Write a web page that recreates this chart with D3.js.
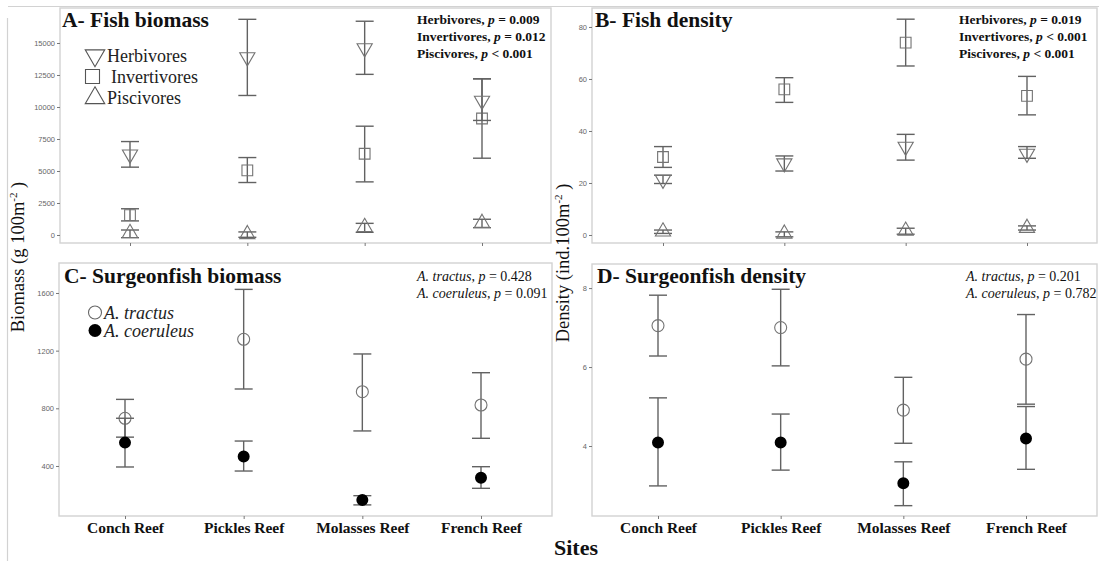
<!DOCTYPE html>
<html>
<head>
<meta charset="utf-8">
<script src="https://cdn.jsdelivr.net/npm/d3@7"></script>
<style>
  html, body { margin: 0; padding: 0; background: #fff; }
  svg { display: block; }
</style>
</head>
<body>
<svg id="chart" width="1099" height="561"></svg>
<script>
// Sampling sites (x categories shared by all four panels)
const sites = ["Conch Reef", "Pickles Reef", "Molasses Reef", "French Reef"];

// A – fish biomass (g 100 m^-2): mean, lower and upper error limits
const herbBiomass   = [6300, 13900, 14600, 10500];
const herbBiomassLo = [5300, 10900, 12550, 8950];
const herbBiomassHi = [7300, 16850, 16700, 12200];
const invBiomass    = [1550, 5050, 6350, 9100];
const invBiomassLo  = [1100, 4100, 4150, 6000];
const invBiomassHi  = [2050, 6050, 8500, 12200];
const pisBiomass    = [150, 60, 620, 940];
const pisBiomassLo  = [-210, -180, 210, 570];
const pisBiomassHi  = [390, 240, 910, 1230];

// B – fish density (ind. 100 m^-2)
const herbDensity   = [21.3, 27.6, 34, 31.3];
const herbDensityLo = [19.8, 24.6, 28.8, 29.5];
const herbDensityHi = [23, 30.4, 38.7, 34];
const invDensity    = [30, 56, 74, 53.5];
const invDensityLo  = [26, 51, 65, 46.2];
const invDensityHi  = [34, 60.5, 83, 61];
const pisDensity    = [1.3, 0.5, 1.6, 2.7];
const pisDensityLo  = [0.6, -0.7, 0.3, 1.9];
const pisDensityHi  = [1.9, 1.2, 2.6, 3.5];

// C – surgeonfish biomass
const tractusBiomass     = [731, 1279, 915, 823];
const tractusBiomassLo   = [600, 934, 643, 592];
const tractusBiomassHi   = [862, 1625, 1177, 1047];
const coeruleusBiomass   = [562, 465, 164, 319];
const coeruleusBiomassLo = [393, 365, 130, 245];
const coeruleusBiomassHi = [731, 573, 194, 395];

// D – surgeonfish density
const tractusDensity     = [7.05, 7.0, 4.91, 6.20];
const tractusDensityLo   = [6.28, 6.03, 4.07, 5.06];
const tractusDensityHi   = [7.82, 7.97, 5.74, 7.33];
const coeruleusDensity   = [4.09, 4.09, 3.06, 4.19];
const coeruleusDensityLo = [2.99, 3.39, 2.49, 3.41];
const coeruleusDensityHi = [5.22, 4.81, 3.60, 5.00];

// Axis ticks
const ticksA = [0, 2500, 5000, 7500, 10000, 12500, 15000];
const ticksB = [0, 20, 40, 60, 80];
const ticksC = [400, 800, 1200, 1600];
const ticksD = [4, 6, 8];

// Statistical annotations
const statsA = [["Herbivores", "= 0.009"], ["Invertivores", "= 0.012"], ["Piscivores", "< 0.001"]];
const statsB = [["Herbivores", "= 0.019"], ["Invertivores", "< 0.001"], ["Piscivores", "< 0.001"]];
const statsC = [["A. tractus", "= 0.428"], ["A. coeruleus", "= 0.091"]];
const statsD = [["A. tractus", "= 0.201"], ["A. coeruleus", "= 0.782"]];

const SERIF = "'Liberation Serif', 'Times New Roman', serif";
const SANS = "'Liberation Sans', Arial, sans-serif";
const BAR = "#626262";
const OPEN = "#737373";
const FRAME = "#d2d2d2";

const svg = d3.select("#chart");

// outer frame lines of the figure
svg.append("line").attr("x1", 8).attr("x2", 1099).attr("y1", 6.5).attr("y2", 6.5)
  .attr("stroke", FRAME).attr("stroke-width", 1.2);
svg.append("line").attr("x1", 7.5).attr("x2", 7.5).attr("y1", 18).attr("y2", 561)
  .attr("stroke", FRAME).attr("stroke-width", 1.2);

const sym = (type, size) => d3.symbol().type(type).size(size)();

function makePanel(cfg) {
  const g = svg.append("g");
  const x = d3.scalePoint().domain(sites).range(cfg.xRange);
  const y = d3.scaleLinear().domain(cfg.yDomain).range([cfg.box.y1, cfg.box.y0]);

  // panel border
  g.append("rect")
    .attr("x", cfg.box.x0).attr("y", cfg.box.y0)
    .attr("width", cfg.box.x1 - cfg.box.x0).attr("height", cfg.box.y1 - cfg.box.y0)
    .attr("fill", "none").attr("stroke", FRAME).attr("stroke-width", 1.4);

  // y axis
  const yAxis = d3.axisLeft(y).tickValues(cfg.ticks).tickSize(3).tickPadding(2).tickFormat(d3.format("d"));
  const ya = g.append("g").attr("transform", `translate(${cfg.box.x0},0)`).call(yAxis);
  ya.select(".domain").remove();
  ya.selectAll("line").attr("stroke", "#777");
  ya.selectAll("text").attr("fill", "#666").style("font-family", SANS).style("font-size", "7.5px");

  // x axis
  const xAxis = d3.axisBottom(x).tickSize(3).tickPadding(3);
  const xa = g.append("g").attr("transform", `translate(0,${cfg.box.y1})`).call(xAxis);
  xa.select(".domain").remove();
  xa.selectAll("line").attr("stroke", "#777");
  if (cfg.xLabels) {
    xa.selectAll("text").attr("fill", "#111").style("font-family", SERIF)
      .style("font-size", "15.5px").style("font-weight", "bold").attr("dy", "0.71em");
  } else {
    xa.selectAll("text").remove();
  }

  // series: error bars then markers
  cfg.series.forEach(s => {
    const rows = sites.map((site, i) => ({ site, m: s.mean[i], lo: s.lo[i], hi: s.hi[i] }));
    const eb = g.append("g").attr("stroke", BAR).attr("stroke-width", 1.4).attr("fill", "none");
    eb.selectAll(".v").data(rows).join("line")
      .attr("x1", d => x(d.site)).attr("x2", d => x(d.site))
      .attr("y1", d => y(d.lo)).attr("y2", d => y(d.hi));
    ["lo", "hi"].forEach(k => {
      eb.selectAll(".c" + k).data(rows).join("line")
        .attr("x1", d => x(d.site) - 9).attr("x2", d => x(d.site) + 9)
        .attr("y1", d => y(d[k])).attr("y2", d => y(d[k]));
    });
    g.append("g").selectAll("path").data(rows).join("path")
      .attr("d", sym(s.type, s.size))
      .attr("transform", d => `translate(${x(d.site)},${y(d.m)})` + (s.rotate ? ` rotate(${s.rotate})` : ""))
      .attr("fill", s.fill || "none")
      .attr("stroke", s.stroke || OPEN)
      .attr("stroke-width", s.fill ? 0 : 1.1);
  });

  // panel title
  g.append("text").attr("x", cfg.title.x).attr("y", cfg.title.y)
    .style("font-family", SERIF).style("font-size", "21.5px").style("font-weight", "bold")
    .attr("fill", "#111").text(cfg.title.text);

  // statistics text
  cfg.stats.rows.forEach((r, i) => {
    const t = g.append("text").attr("x", cfg.stats.x).attr("y", cfg.stats.y + i * cfg.stats.dy)
      .style("font-family", SERIF).style("font-size", cfg.stats.size + "px").attr("fill", "#111");
    if (cfg.stats.bold) {
      t.style("font-weight", "bold");
      t.append("tspan").text(r[0] + ", ");
    } else {
      t.append("tspan").style("font-style", "italic").text(r[0]);
      t.append("tspan").text(", ");
    }
    t.append("tspan").style("font-style", "italic").text("p");
    t.append("tspan").text(" " + r[1]);
  });
  return { g, x, y };
}

// A – Fish biomass
makePanel({
  box: { x0: 60, x1: 551, y0: 8, y1: 243 },
  xRange: [130, 482],
  yDomain: [-625, 17734],
  ticks: ticksA,
  xLabels: false,
  title: { x: 62, y: 27, text: "A- Fish biomass" },
  stats: { x: 417, y: 24, dy: 17, size: 13.5, bold: true, rows: statsA },
  series: [
    { mean: invBiomass, lo: invBiomassLo, hi: invBiomassHi, type: d3.symbolSquare, size: 115 },
    { mean: herbBiomass, lo: herbBiomassLo, hi: herbBiomassHi, type: d3.symbolTriangle, size: 100, rotate: 180 },
    { mean: pisBiomass, lo: pisBiomassLo, hi: pisBiomassHi, type: d3.symbolTriangle, size: 100 }
  ]
});

// B – Fish density
makePanel({
  box: { x0: 592, x1: 1097, y0: 8, y1: 243 },
  xRange: [663, 1027],
  yDomain: [-3.08, 87.3],
  ticks: ticksB,
  xLabels: false,
  title: { x: 595, y: 27, text: "B- Fish density" },
  stats: { x: 959, y: 24, dy: 17, size: 13.5, bold: true, rows: statsB },
  series: [
    { mean: invDensity, lo: invDensityLo, hi: invDensityHi, type: d3.symbolSquare, size: 115 },
    { mean: herbDensity, lo: herbDensityLo, hi: herbDensityHi, type: d3.symbolTriangle, size: 100, rotate: 180 },
    { mean: pisDensity, lo: pisDensityLo, hi: pisDensityHi, type: d3.symbolTriangle, size: 100 }
  ]
});

// C – Surgeonfish biomass
makePanel({
  box: { x0: 59, x1: 552, y0: 263, y1: 516 },
  xRange: [125, 481],
  yDomain: [53, 1808],
  ticks: ticksC,
  xLabels: true,
  title: { x: 64, y: 283, text: "C- Surgeonfish biomass" },
  stats: { x: 417, y: 281, dy: 17, size: 14, bold: false, rows: statsC },
  series: [
    { mean: tractusBiomass, lo: tractusBiomassLo, hi: tractusBiomassHi, type: d3.symbolCircle, size: 113 },
    { mean: coeruleusBiomass, lo: coeruleusBiomassLo, hi: coeruleusBiomassHi, type: d3.symbolCircle, size: 113, fill: "#000" }
  ]
});

// D – Surgeonfish density
makePanel({
  box: { x0: 592, x1: 1097, y0: 264, y1: 516 },
  xRange: [658, 1026],
  yDomain: [2.228, 8.61],
  ticks: ticksD,
  xLabels: true,
  title: { x: 597, y: 283, text: "D- Surgeonfish density" },
  stats: { x: 966, y: 281, dy: 17, size: 14, bold: false, rows: statsD },
  series: [
    { mean: tractusDensity, lo: tractusDensityLo, hi: tractusDensityHi, type: d3.symbolCircle, size: 113 },
    { mean: coeruleusDensity, lo: coeruleusDensityLo, hi: coeruleusDensityHi, type: d3.symbolCircle, size: 113, fill: "#000" }
  ]
});

// Legend, trophic groups
const legA = [
  { label: "Herbivores", type: d3.symbolTriangle, size: 165, rotate: 180, cx: 95, cy: 55.5, tx: 107 },
  { label: "Invertivores", type: d3.symbolSquare, size: 196, cx: 92.5, cy: 76.5, tx: 111 },
  { label: "Piscivores", type: d3.symbolTriangle, size: 165, cx: 95, cy: 98, tx: 107 }
];
legA.forEach(d => {
  svg.append("path").attr("d", sym(d.type, d.size))
    .attr("transform", `translate(${d.cx},${d.cy})` + (d.rotate ? ` rotate(${d.rotate})` : ""))
    .attr("fill", "none").attr("stroke", "#555").attr("stroke-width", 1.1);
  svg.append("text").attr("x", d.tx).attr("y", d.cy + 6)
    .style("font-family", SERIF).style("font-size", "18px").attr("fill", "#222").text(d.label);
});

// Legend, surgeonfish species
const legC = [
  { label: "A. tractus", fill: "none", cy: 312.5 },
  { label: "A. coeruleus", fill: "#000", cy: 330.5 }
];
legC.forEach(d => {
  svg.append("circle").attr("cx", 95).attr("cy", d.cy).attr("r", 6.5)
    .attr("fill", d.fill).attr("stroke", d.fill === "none" ? "#666" : "none").attr("stroke-width", 1.1);
  svg.append("text").attr("x", 104).attr("y", d.cy + 6)
    .style("font-family", SERIF).style("font-size", "18px").style("font-style", "italic")
    .attr("fill", "#222").text(d.label);
});

// Shared axis titles
function yTitle(x, yc, main) {
  const t = svg.append("text").attr("transform", `translate(${x},${yc}) rotate(-90)`)
    .attr("text-anchor", "middle").style("font-family", SERIF).style("font-size", "18.5px").attr("fill", "#111");
  t.append("tspan").text(main);
  t.append("tspan").attr("dy", -7).style("font-size", "11px").text("-2");
  t.append("tspan").attr("dy", 7).text(" )");
}
yTitle(24, 257, "Biomass (g 100m");
yTitle(569, 263, "Density  (ind.100m");

svg.append("text").attr("x", 576).attr("y", 555).attr("text-anchor", "middle")
  .style("font-family", SERIF).style("font-size", "22px").style("font-weight", "bold")
  .attr("fill", "#111").text("Sites");
</script>
</body>
</html>
